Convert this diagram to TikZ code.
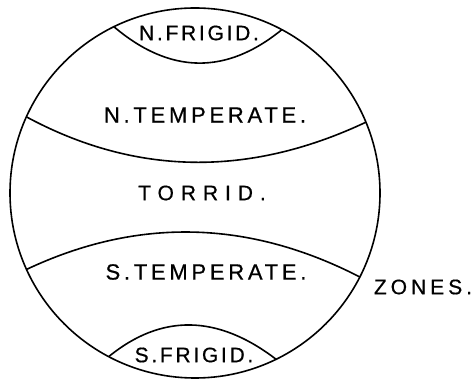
\documentclass[tikz,border=0pt]{standalone}
\usepackage{fontspec}
\newfontfamily\zonefont[FakeBold=0.6]{Liberation Sans}
\usetikzlibrary{calc}

\begin{document}
\begin{tikzpicture}[x=1pt,y=1pt,
  zone/.style={font=\zonefont\fontsize{21}{25}\selectfont\addfontfeatures{LetterSpace=#1}, inner sep=0pt},
  zone/.default=14,
  belt/.style={line width=1.6pt}]
\useasboundingbox (0,0) rectangle (474,380);
\coordinate (o) at (195,187);
\draw[belt] (o) circle (185);
% zone borders, ends on the rim
\coordinate (nf1) at ($(o)+(116:185)$);
\coordinate (nf2) at ($(o)+(62:185)$);
\coordinate (nt1) at ($(o)+(155.7:185)$);
\coordinate (nt2) at ($(o)+(22.5:185)$);
\coordinate (st1) at ($(o)+(204.4:185)$);
\coordinate (st2) at ($(o)+(333:185)$);
\coordinate (sf1) at ($(o)+(242.2:185)$);
\coordinate (sf2) at ($(o)+(296:185)$);
\draw[belt] (nf1) .. controls ($(nf1)!2/3!(198,282)$) and ($(nf2)!2/3!(198,282)$) .. (nf2);
\draw[belt] (nt1) .. controls ($(nt1)!2/3!(190,175)$) and ($(nt2)!2/3!(190,175)$) .. (nt2);
\draw[belt] (st1) .. controls ($(st1)!2/3!(193,189)$) and ($(st2)!2/3!(193,189)$) .. (st2);
\draw[belt] (sf1) .. controls ($(sf1)!2/3!(188,88)$) and ($(sf2)!2/3!(188,88)$) .. (sf2);
% labels
\node[zone=13] (nfrigid) at (199,347) {N.FRIGID.};
\node[zone=17, font=\zonefont\fontsize{22}{26}\selectfont\addfontfeatures{LetterSpace=17}] (ntemp) at (205,265) {N.TEMPERATE.};
\node[zone=33] (torrid) at (202,187) {TORRID.};
\node[zone=17, font=\zonefont\fontsize{22}{26}\selectfont\addfontfeatures{LetterSpace=17}] (stemp) at (206,108) {S.TEMPERATE.};
\node[zone=13] (sfrigid) at (194,25) {S.FRIGID.};
\node[zone=19] (zones) at (423,93) {ZONES.};
\end{tikzpicture}
\end{document}
